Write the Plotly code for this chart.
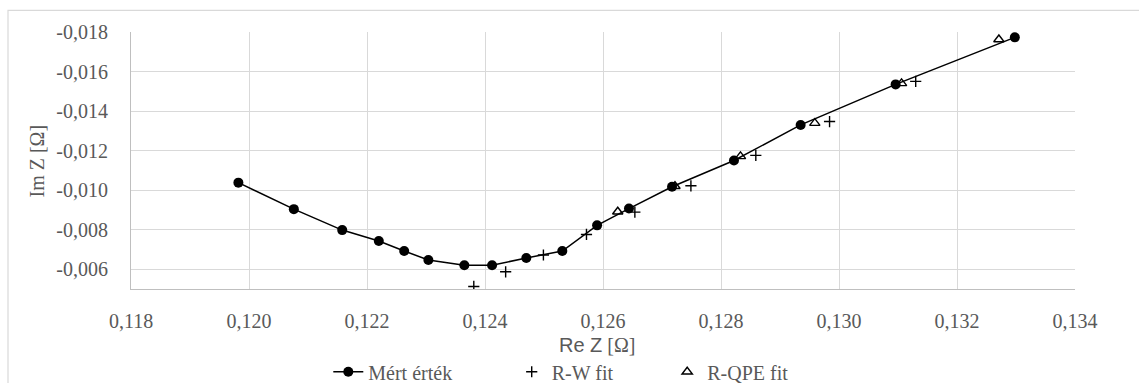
import plotly.graph_objects as go

# Measured impedance (Re Z, Im Z) in ohm
mert_re = [0.11982, 0.12076, 0.12158, 0.12220, 0.12263, 0.12304, 0.12365, 0.12412,
           0.12470, 0.12531, 0.12590, 0.12644, 0.12717, 0.12822, 0.12935, 0.13096, 0.13298]
mert_im = [-0.01038, -0.00904, -0.00798, -0.00743, -0.00692, -0.00647, -0.00620, -0.00620,
           -0.00657, -0.00692, -0.00822, -0.00907, -0.01017, -0.01150, -0.01330, -0.01535, -0.01773]

# R-W model fit
rw_re = [0.12381, 0.12435, 0.12499, 0.12572, 0.12654, 0.12749, 0.12859, 0.12984, 0.13130]
rw_im = [-0.00513, -0.00587, -0.00672, -0.00776, -0.00889, -0.01022, -0.01176, -0.01347, -0.01550]

# R-QPE model fit
qpe_re = [0.12625, 0.12722, 0.12833, 0.12959, 0.13106, 0.13271]
qpe_im = [-0.00891, -0.01020, -0.01171, -0.01339, -0.01540, -0.01762]

x_ticks = [0.118, 0.120, 0.122, 0.124, 0.126, 0.128, 0.130, 0.132, 0.134]
x_tick_text = ["0,118", "0,120", "0,122", "0,124", "0,126", "0,128", "0,130", "0,132", "0,134"]
y_ticks = [-0.006, -0.008, -0.010, -0.012, -0.014, -0.016, -0.018]
y_tick_text = ["-0,006", "-0,008", "-0,010", "-0,012", "-0,014", "-0,016", "-0,018"]

SERIF = "Times New Roman, Liberation Serif, serif"
GRAY = "#595959"
GRID = "#d9d9d9"
FS = 20

fig = go.Figure()
fig.add_trace(go.Scatter(
    x=mert_re, y=mert_im, name="Mért érték", mode="lines+markers",
    line=dict(color="black", width=1.5),
    marker=dict(symbol="circle", size=10, color="black"),
    legend="legend",
))
fig.add_trace(go.Scatter(
    x=rw_re, y=rw_im, name="R-W fit", mode="markers",
    marker=dict(symbol="cross-thin", size=8, color="black",
                line=dict(color="black", width=1.4)),
    legend="legend2",
))
fig.add_trace(go.Scatter(
    x=qpe_re, y=qpe_im, name="R-QPE fit", mode="markers",
    marker=dict(symbol="triangle-up-open", size=9, color="black",
                line=dict(color="black", width=1.4)),
    legend="legend3",
))

legend_common = dict(orientation="h", yanchor="middle", y=-0.322, xanchor="left",
                     font=dict(family=SERIF, size=FS, color=GRAY),
                     bgcolor="rgba(0,0,0,0)", itemsizing="trace")

fig.update_layout(
    width=1139, height=383,
    margin=dict(l=131, r=64, t=32, b=94, autoexpand=False),
    paper_bgcolor="white", plot_bgcolor="white",
    font=dict(family=SERIF, size=FS, color=GRAY),
    showlegend=True,
    legend=dict(x=0.209, **legend_common),
    legend2=dict(x=0.4033, **legend_common),
    legend3=dict(x=0.568, **legend_common),
    xaxis=dict(
        range=[0.118, 0.134], tickvals=x_ticks, ticktext=x_tick_text,
        showgrid=True, gridcolor=GRID, gridwidth=1,
        showline=True, linecolor="#bfbfbf", linewidth=1,
        zeroline=False, ticks="", ticklabelstandoff=14,
        tickfont=dict(family=SERIF, size=FS, color=GRAY),
    ),
    yaxis=dict(
        range=[-0.005, -0.018], tickvals=y_ticks, ticktext=y_tick_text,
        showgrid=True, gridcolor=GRID, gridwidth=1,
        showline=True, linecolor="#bfbfbf", linewidth=1,
        zeroline=False, ticks="", ticklabelstandoff=18,
        tickfont=dict(family=SERIF, size=FS, color=GRAY),
    ),
    annotations=[
        dict(text="Im Z [Ω]", textangle=-90, xref="paper", yref="paper",
             x=-0.0996, y=0.5, xanchor="center", yanchor="middle", showarrow=False,
             font=dict(family=SERIF, size=FS, color=GRAY)),
        dict(text="<span style='font-family:Liberation Sans'>Re Z</span> [Ω]",
             xref="paper", yref="paper",
             x=0.4947, y=-0.219, xanchor="center", yanchor="middle", showarrow=False,
             font=dict(family=SERIF, size=FS, color=GRAY)),
    ],
    shapes=[
        dict(type="rect", xref="paper", yref="paper",
             x0=-0.1303, y0=-0.40, x1=1.08, y1=1.0843,
             line=dict(color=GRID, width=1.2), fillcolor="rgba(0,0,0,0)", layer="below"),
    ],
)

fig.write_html("out.html")
